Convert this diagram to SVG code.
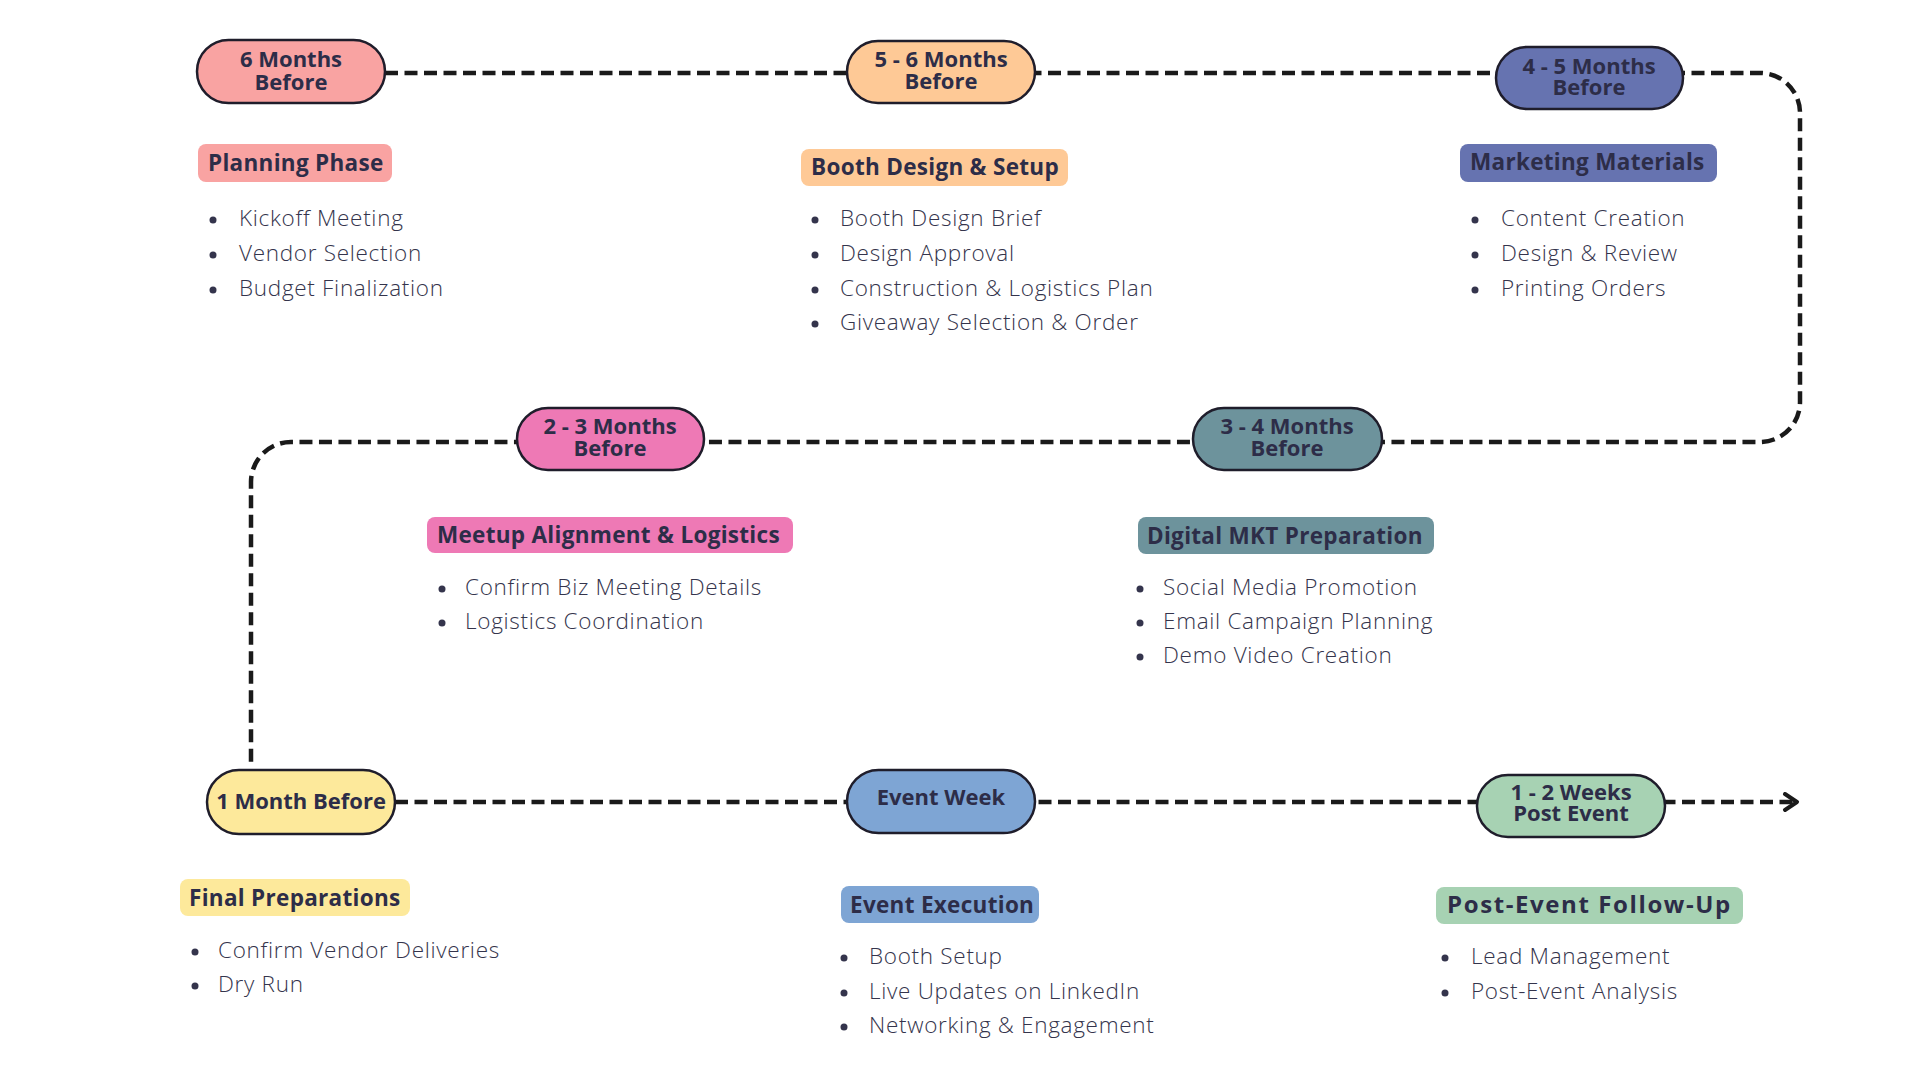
<svg xmlns="http://www.w3.org/2000/svg" width="1920" height="1080" viewBox="0 0 1920 1080">
<style>
.pill{stroke:#1f1d2b;stroke-width:2.5}
.pt{font-family:"Open Sans","Liberation Sans",sans-serif;font-weight:700;font-size:22px;fill:#2d2d48;text-anchor:middle}
.lt{font-family:"Open Sans","Liberation Sans",sans-serif;font-weight:700;font-size:22.5px;letter-spacing:0.3px;fill:#2d2d48}
.bt{font-family:"Open Sans","Liberation Sans",sans-serif;font-weight:300;font-size:22.5px;letter-spacing:0.7px;fill:#34344c}
.dot{fill:#34344c}
.conn{fill:none;stroke:#1a1a1a;stroke-width:4.5;stroke-dasharray:13 6.5}
</style>
<defs>
<marker id="arr" viewBox="0 0 20 20" refX="16" refY="10" markerWidth="20" markerHeight="20" markerUnits="userSpaceOnUse" orient="auto">
<polyline points="4,2 16,10 4,18" fill="none" stroke="#1a1a1a" stroke-width="4" stroke-linecap="round" stroke-linejoin="round"/>
</marker>
</defs>
<rect width="1920" height="1080" fill="#ffffff"/>
<g id="connectors">
<path class="conn" d="M385 73 H1760 A40 40 0 0 1 1800 113 V402 A40 40 0 0 1 1760 442 H291 A40 40 0 0 0 251 482 V768"/>
<path class="conn" d="M395 802 H1797" marker-end="url(#arr)"/>
</g>
<g id="phase-6-months">
<rect class="pill" x="197" y="40" width="188" height="63" rx="31.5" fill="#f9a3a2"/>
<text class="pt"><tspan x="291" y="67">6 Months</tspan><tspan x="291" y="90">Before</tspan></text>
<rect x="198" y="144" width="194" height="38" rx="8" fill="#f9a3a2"/>
<text class="lt" x="208" y="171">Planning Phase</text>
<circle class="dot" cx="213" cy="220" r="3.5"/><text class="bt" x="239" y="226">Kickoff Meeting</text>
<circle class="dot" cx="213" cy="255" r="3.5"/><text class="bt" x="239" y="261">Vendor Selection</text>
<circle class="dot" cx="213" cy="290" r="3.5"/><text class="bt" x="239" y="296">Budget Finalization</text>
</g>
<g id="phase-5-6-months">
<rect class="pill" x="847" y="41" width="188" height="62" rx="31" fill="#fec996"/>
<text class="pt"><tspan x="941" y="67">5 - 6 Months</tspan><tspan x="941" y="89">Before</tspan></text>
<rect x="801" y="149" width="267" height="37" rx="8" fill="#fec996"/>
<text class="lt" x="811" y="175">Booth Design &amp; Setup</text>
<circle class="dot" cx="815" cy="220" r="3.5"/><text class="bt" x="840" y="226">Booth Design Brief</text>
<circle class="dot" cx="815" cy="255" r="3.5"/><text class="bt" x="840" y="261">Design Approval</text>
<circle class="dot" cx="815" cy="290" r="3.5"/><text class="bt" x="840" y="296">Construction &amp; Logistics Plan</text>
<circle class="dot" cx="815" cy="324" r="3.5"/><text class="bt" x="840" y="330">Giveaway Selection &amp; Order</text>
</g>
<g id="phase-4-5-months">
<rect class="pill" x="1496" y="47" width="187" height="62" rx="31" fill="#6673b0"/>
<text class="pt"><tspan x="1589" y="74">4 - 5 Months</tspan><tspan x="1589" y="95">Before</tspan></text>
<rect x="1460" y="144" width="257" height="38" rx="8" fill="#6673b0"/>
<text class="lt" x="1470" y="170">Marketing Materials</text>
<circle class="dot" cx="1475" cy="220" r="3.5"/><text class="bt" x="1501" y="226">Content Creation</text>
<circle class="dot" cx="1475" cy="255" r="3.5"/><text class="bt" x="1501" y="261">Design &amp; Review</text>
<circle class="dot" cx="1475" cy="290" r="3.5"/><text class="bt" x="1501" y="296">Printing Orders</text>
</g>
<g id="phase-3-4-months">
<rect class="pill" x="1193" y="408" width="189" height="62" rx="31" fill="#6d939c"/>
<text class="pt"><tspan x="1287" y="434">3 - 4 Months</tspan><tspan x="1287" y="456">Before</tspan></text>
<rect x="1138" y="517" width="296" height="37" rx="8" fill="#6d939c"/>
<text class="lt" x="1147" y="544">Digital MKT Preparation</text>
<circle class="dot" cx="1140" cy="589" r="3.5"/><text class="bt" x="1163" y="595">Social Media Promotion</text>
<circle class="dot" cx="1140" cy="623" r="3.5"/><text class="bt" x="1163" y="629">Email Campaign Planning</text>
<circle class="dot" cx="1140" cy="657" r="3.5"/><text class="bt" x="1163" y="663">Demo Video Creation</text>
</g>
<g id="phase-2-3-months">
<rect class="pill" x="517" y="408" width="187" height="62" rx="31" fill="#ee79b5"/>
<text class="pt"><tspan x="610" y="434">2 - 3 Months</tspan><tspan x="610" y="456">Before</tspan></text>
<rect x="427" y="517" width="366" height="36" rx="8" fill="#ee79b5"/>
<text class="lt" x="437" y="543">Meetup Alignment &amp; Logistics</text>
<circle class="dot" cx="442" cy="589" r="3.5"/><text class="bt" x="465" y="595">Confirm Biz Meeting Details</text>
<circle class="dot" cx="442" cy="623" r="3.5"/><text class="bt" x="465" y="629">Logistics Coordination</text>
</g>
<g id="phase-1-month">
<rect class="pill" x="207" y="770" width="188" height="64" rx="32" fill="#fde99b"/>
<text class="pt" x="301" y="809">1 Month Before</text>
<rect x="180" y="879" width="230" height="37" rx="8" fill="#fde99b"/>
<text class="lt" x="189" y="906">Final Preparations</text>
<circle class="dot" cx="195" cy="952" r="3.5"/><text class="bt" x="218" y="958">Confirm Vendor Deliveries</text>
<circle class="dot" cx="195" cy="986" r="3.5"/><text class="bt" x="218" y="992">Dry Run</text>
</g>
<g id="phase-event-week">
<rect class="pill" x="847" y="770" width="188" height="63" rx="31.5" fill="#7ea5d4"/>
<text class="pt" x="941" y="805">Event Week</text>
<rect x="841" y="886" width="198" height="37" rx="8" fill="#7ea5d4"/>
<text class="lt" x="850" y="913">Event Execution</text>
<circle class="dot" cx="844" cy="958" r="3.5"/><text class="bt" x="869" y="964">Booth Setup</text>
<circle class="dot" cx="844" cy="993" r="3.5"/><text class="bt" x="869" y="999">Live Updates on LinkedIn</text>
<circle class="dot" cx="844" cy="1027" r="3.5"/><text class="bt" x="869" y="1033">Networking &amp; Engagement</text>
</g>
<g id="phase-post-event">
<rect class="pill" x="1477" y="775" width="188" height="62" rx="31" fill="#a7d2b3"/>
<text class="pt"><tspan x="1571" y="800">1 - 2 Weeks</tspan><tspan x="1571" y="821">Post Event</tspan></text>
<rect x="1436" y="887" width="307" height="37" rx="8" fill="#a7d2b3"/>
<text class="lt" x="1447" y="913" style="font-size:24px;letter-spacing:1.6px">Post-Event Follow-Up</text>
<circle class="dot" cx="1445" cy="958" r="3.5"/><text class="bt" x="1471" y="964">Lead Management</text>
<circle class="dot" cx="1445" cy="993" r="3.5"/><text class="bt" x="1471" y="999">Post-Event Analysis</text>
</g>
</svg>
